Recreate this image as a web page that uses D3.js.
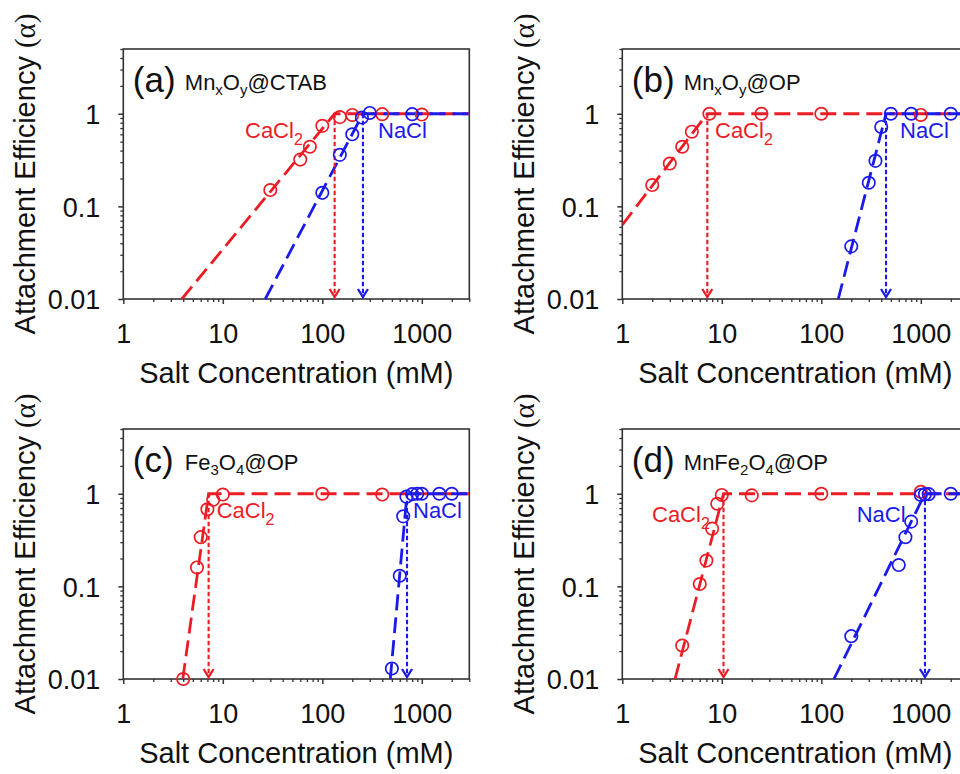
<!DOCTYPE html>
<html><head><meta charset="utf-8">
<script src="https://cdn.jsdelivr.net/npm/d3@7"></script>
<style>
html,body{margin:0;padding:0;background:#fff;overflow:hidden;}
svg{display:block;font-family:"Liberation Sans",Arial,sans-serif;}
</style></head>
<body><svg id="chart" width="960" height="774"></svg>
<script>
// ---------- DATA ----------
const panelLetters = ["(a)", "(b)", "(c)", "(d)"];
const panelCompounds = ["Mn_xO_y@CTAB", "Mn_xO_y@OP", "Fe_3O_4@OP", "MnFe_2O_4@OP"];
const saltNames = ["CaCl_2", "NaCl"];
const xTickValues = [1, 10, 100, 1000];
const yTickValues = [0.01, 0.1, 1];
const xDomain = [1, 3000];
const yDomain = [0.01, 5];

// measured attachment efficiencies [concentration mM, alpha]
const cacl2_a = [[30,0.15],[60,0.32],[75,0.44],[100,0.74],[150,0.92],[200,0.97],[400,0.99],[1000,0.98]];
const nacl_a  = [[100,0.14],[150,0.36],[200,0.6],[250,0.91],[300,1.02],[800,0.99]];
const cacl2_b = [[2,0.17],[3,0.29],[4,0.44],[5,0.64],[7.5,1.0],[25,1.0],[100,1.0],[1000,0.97]];
const nacl_b  = [[200,0.037],[300,0.18],[350,0.31],[400,0.72],[500,1.0],[800,1.0],[2000,1.0]];
const cacl2_c = [[4,0.01],[5.5,0.16],[6,0.34],[7,0.68],[8,0.86],[10,0.98],[100,1.0],[400,0.98]];
const nacl_c  = [[500,0.013],[600,0.13],[650,0.57],[700,0.93],[800,0.99],[900,1.0],[1000,1.0],[1500,1.0],[2000,1.0]];
const cacl2_d = [[4,0.023],[6,0.106],[7,0.19],[8,0.42],[9,0.78],[10,0.97],[20,0.96],[100,1.0],[1000,1.05]];
const nacl_d  = [[200,0.029],[600,0.17],[700,0.34],[800,0.5],[1000,0.97],[1100,0.99],[1200,0.99],[2000,1.0]];

// fitted lines (reaction-limited slope, then diffusion-limited plateau)
const fitCa_a = [[3.87,0.01],[133,1],[3000,1]];
const fitNa_a = [[26.7,0.01],[256,1],[3000,1]];
const fitCa_b = [[1,0.063],[7.15,1],[3000,1]];
const fitNa_b = [[148,0.01],[447,1],[3000,1]];
const fitCa_c = [[3.96,0.01],[7.2,1],[3000,1]];
const fitNa_c = [[482,0.01],[710,1],[3000,1]];
const fitCa_d = [[3.39,0.01],[10.4,1],[3000,1]];
const fitNa_d = [[134,0.01],[1100,1],[3000,1]];

// critical coagulation concentrations (CaCl2, NaCl)
const ccc_a = [133, 256];
const ccc_b = [7.15, 447];
const ccc_c = [7.2, 710];
const ccc_d = [10.4, 1100];

// ---------- LAYOUT ----------
const PW = 346, PH = 250;
const origins = [[123.3,49],[622.3,49],[123.3,429],[622.3,429]];
const saltLabelPos = [
  [[121.7,89],[254.7,89]],
  [[92.7,89],[277.7,89]],
  [[93.4,89],[289.7,89]],
  [[29.7,92.7],[234.4,92.7]]
];
const RED = "#ec1c24", BLUE = "#1a1aeb";
const colors = [RED, BLUE];

const panelsData = [
  {pts:[cacl2_a,nacl_a], fits:[fitCa_a,fitNa_a], ccc:ccc_a},
  {pts:[cacl2_b,nacl_b], fits:[fitCa_b,fitNa_b], ccc:ccc_b},
  {pts:[cacl2_c,nacl_c], fits:[fitCa_c,fitNa_c], ccc:ccc_c},
  {pts:[cacl2_d,nacl_d], fits:[fitCa_d,fitNa_d], ccc:ccc_d}
];

const svg = d3.select("#chart");

function subText(sel, str, size, subSize, shift) {
  const parts = [];
  const re = /_(.)/g;
  let last = 0, m;
  while ((m = re.exec(str)) !== null) {
    if (m.index > last) parts.push([str.slice(last, m.index), false]);
    parts.push([m[1], true]);
    last = m.index + 2;
  }
  if (last < str.length) parts.push([str.slice(last), false]);
  let prevSub = false;
  parts.forEach(([t, sub]) => {
    const ts = sel.append("tspan").text(t).attr("font-size", sub ? subSize : size);
    if (sub && !prevSub) ts.attr("dy", shift);
    if (!sub && prevSub) ts.attr("dy", -shift);
    prevSub = sub;
  });
}

const minorX = [];
for (let d = 1; d <= 1000; d *= 10) for (let k = 2; k <= 9; k++) if (d*k <= 3000) minorX.push(d*k);
const minorY = [];
for (let d = 0.01; d <= 1.01; d *= 10) for (let k = 2; k <= 9; k++) if (d*k <= 5.0001) minorY.push(+(d*k).toPrecision(3));

svg.append("defs").append("clipPath").attr("id","plotclip")
  .append("rect").attr("x",0).attr("y",-1).attr("width",PW).attr("height",PH+2);

panelsData.forEach((p, i) => {
  const [ox, oy] = origins[i];
  const g = svg.append("g").attr("transform", `translate(${ox},${oy})`);
  const x = d3.scaleLog().domain(xDomain).range([0, PW]);
  const y = d3.scaleLog().domain(yDomain).range([PH, 0]);

  // minor ticks
  g.append("g").attr("transform", `translate(0,${PH})`)
    .call(d3.axisBottom(x).tickValues(minorX).tickSize(3).tickFormat(""))
    .call(s => s.select(".domain").remove())
    .selectAll("line").attr("stroke", "#333").attr("stroke-width", 1.3);
  g.append("g")
    .call(d3.axisLeft(y).tickValues(minorY).tickSize(3).tickFormat(""))
    .call(s => s.select(".domain").remove())
    .selectAll("line").attr("stroke", "#333").attr("stroke-width", 1.3);

  // major axes
  const xa = g.append("g").attr("transform", `translate(0,${PH})`)
    .call(d3.axisBottom(x).tickValues(xTickValues).tickSize(5).tickPadding(20).tickFormat(d3.format("d")));
  xa.select(".domain").remove();
  xa.selectAll("line").attr("stroke", "#333").attr("stroke-width", 1.5);
  xa.selectAll("text").attr("font-size", 27).attr("fill", "#111")
    .attr("font-family", '"Liberation Sans",Arial,sans-serif');
  const ya = g.append("g")
    .call(d3.axisLeft(y).tickValues(yTickValues).tickSize(5).tickPadding(18).tickFormat(d => String(d)));
  ya.select(".domain").remove();
  ya.selectAll("line").attr("stroke", "#333").attr("stroke-width", 1.5);
  ya.selectAll("text").attr("font-size", 27).attr("fill", "#111").attr("dy", "0.36em")
    .attr("font-family", '"Liberation Sans",Arial,sans-serif');

  // frame
  g.append("rect").attr("x", 0).attr("y", 0).attr("width", PW).attr("height", PH)
    .attr("fill", "none").attr("stroke", "#333").attr("stroke-width", 1.6);

  const plot = g.append("g").attr("clip-path", "url(#plotclip)");
  const line = d3.line().x(d => x(d[0])).y(d => y(d[1]));

  // fitted dashed lines
  p.fits.forEach((f, k) => {
    plot.append("path").datum(f).attr("d", line)
      .attr("fill", "none").attr("stroke", colors[k]).attr("stroke-width", 2.8)
      .attr("stroke-dasharray", "16,7");
  });

  // CCC arrows
  p.ccc.forEach((c, k) => {
    const cx = x(c), y0 = y(1), y1 = y(0.01);
    g.append("line").attr("x1", cx).attr("x2", cx).attr("y1", y0).attr("y2", y1 - 2)
      .attr("stroke", colors[k]).attr("stroke-width", 2.1).attr("stroke-dasharray", "4.5,2.5");
    g.append("path").attr("d", `M${cx-5},${y1-10} L${cx},${y1-2} L${cx+5},${y1-10}`)
      .attr("fill", "none").attr("stroke", colors[k]).attr("stroke-width", 2.3);
  });

  // data points
  p.pts.forEach((pts, k) => {
    g.append("g").selectAll("circle").data(pts).join("circle")
      .attr("cx", d => x(d[0])).attr("cy", d => y(d[1])).attr("r", 6.2)
      .attr("fill", "none").attr("stroke", colors[k]).attr("stroke-width", 1.7);
  });

  // salt labels
  saltNames.forEach((s, k) => {
    const t = g.append("text").attr("x", saltLabelPos[i][k][0]).attr("y", saltLabelPos[i][k][1])
      .attr("fill", colors[k]);
    subText(t, s, 22, 16, 7);
  });

  // panel title
  g.append("text").attr("x", 9.5).attr("y", 43).attr("font-size", 35).attr("fill", "#111")
    .text(panelLetters[i]);
  const ct = g.append("text").attr("x", 61.5).attr("y", 41).attr("fill", "#111");
  subText(ct, panelCompounds[i], 22, 15, 5);

  // axis titles
  g.append("text").attr("x", PW/2).attr("y", PH + 84).attr("text-anchor", "middle")
    .attr("font-size", 29).attr("fill", "#111").text("Salt Concentration (mM)");
  const yt = g.append("text").attr("transform", `translate(-88.5,${PH/2}) rotate(-90)`)
    .attr("text-anchor", "middle").attr("font-size", 29).attr("fill", "#111");
  yt.append("tspan").text("Attachment Efficiency ");
  yt.append("tspan").attr("font-family", '"Liberation Serif","Times New Roman",serif').text("(α)");
});
</script>
</body></html>
